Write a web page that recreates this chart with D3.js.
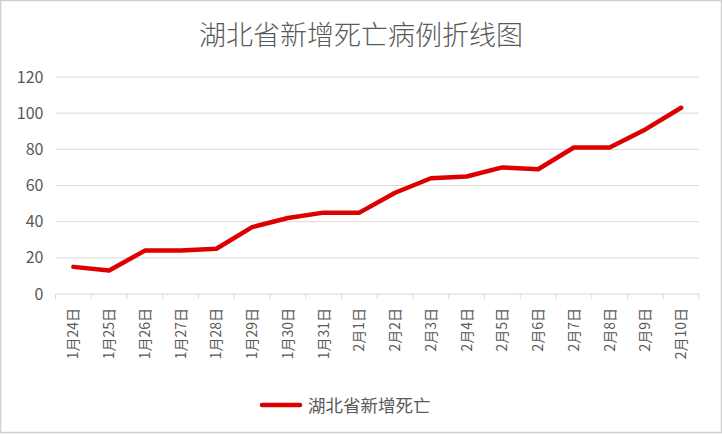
<!DOCTYPE html>
<html><head><meta charset="utf-8">
<script src="https://cdn.jsdelivr.net/npm/d3@7"></script>
<style>body{margin:0;background:#fff;}svg{display:block;}</style>
</head><body>
<svg id="c" width="722" height="434"></svg>
<script>
const categories = ["1月24日","1月25日","1月26日","1月27日","1月28日","1月29日","1月30日","1月31日","2月1日","2月2日","2月3日","2月4日","2月5日","2月6日","2月7日","2月8日","2月9日","2月10日"];
const deaths = [15,13,24,24,25,37,42,45,45,56,64,65,70,69,81,81,91,103];
const yTicks = [0,20,40,60,80,100,120];
const title = "湖北省新增死亡病例折线图";
const seriesName = "湖北省新增死亡";

(function(){
const svg = d3.select("#c");
const W = 722, H = 434;
const font = "'Noto Sans CJK SC', 'Noto Sans', sans-serif";
svg.append("rect").attr("x",0.5).attr("y",0.5).attr("width",W-1).attr("height",H-2)
  .attr("fill","#fff").attr("stroke","#d0d0d0").attr("stroke-width",1.5);

const pL = 55.5, pR = 699, pT = 77, pB = 294;
const x = d3.scaleBand().domain(categories).range([pL,pR]);
const y = d3.scaleLinear().domain([0,120]).range([pB,pT]);

// gridlines
svg.append("g").selectAll("line").data(yTicks.filter(d=>d>0)).join("line")
  .attr("x1",pL).attr("x2",pR).attr("y1",d=>y(d)).attr("y2",d=>y(d))
  .attr("stroke","#d9d9d9").attr("stroke-width",1);

// y axis labels
const yAxis = d3.axisLeft(y).tickValues(yTicks).tickSize(0).tickPadding(12);
const gy = svg.append("g").attr("transform",`translate(${pL},0)`).call(yAxis);
gy.select(".domain").remove();
gy.selectAll("text").attr("font-family",font).attr("font-size",16).attr("fill","#595959");

// x axis
const gx = svg.append("g").attr("transform",`translate(0,${pB})`);
gx.append("line").attr("x1",pL).attr("x2",pR).attr("stroke","#d9d9d9").attr("stroke-width",1);
const bounds = categories.map(c=>x(c)).concat([pR]);
gx.selectAll("line.tk").data(bounds).join("line").attr("class","tk")
  .attr("x1",d=>d).attr("x2",d=>d).attr("y1",0).attr("y2",5)
  .attr("stroke","#d9d9d9").attr("stroke-width",1);
gx.selectAll("text").data(categories).join("text")
  .attr("transform",d=>`translate(${x(d)+x.bandwidth()/2+5},14) rotate(-90)`)
  .attr("text-anchor","end")
  .attr("font-family",font).attr("font-size",14).attr("fill","#595959")
  .text(d=>d);

// line
const line = d3.line().x((d,i)=>x(categories[i])+x.bandwidth()/2).y(d=>y(d));
svg.append("path").datum(deaths).attr("d",line)
  .attr("fill","none").attr("stroke","#dd0000").attr("stroke-width",4.5)
  .attr("stroke-linejoin","round").attr("stroke-linecap","round");

// title
svg.append("text").attr("x",361).attr("y",45).attr("text-anchor","middle")
  .attr("font-family",font).attr("font-size",27).attr("font-weight",300).attr("fill","#595959").text(title);

// legend
svg.append("line").attr("x1",262).attr("x2",300).attr("y1",405).attr("y2",405)
  .attr("stroke","#dd0000").attr("stroke-width",4.5).attr("stroke-linecap","round");
svg.append("text").attr("x",308).attr("y",412).attr("font-family",font).attr("font-size",17.5)
  .attr("fill","#595959").text(seriesName);
})();
</script>
</body></html>
